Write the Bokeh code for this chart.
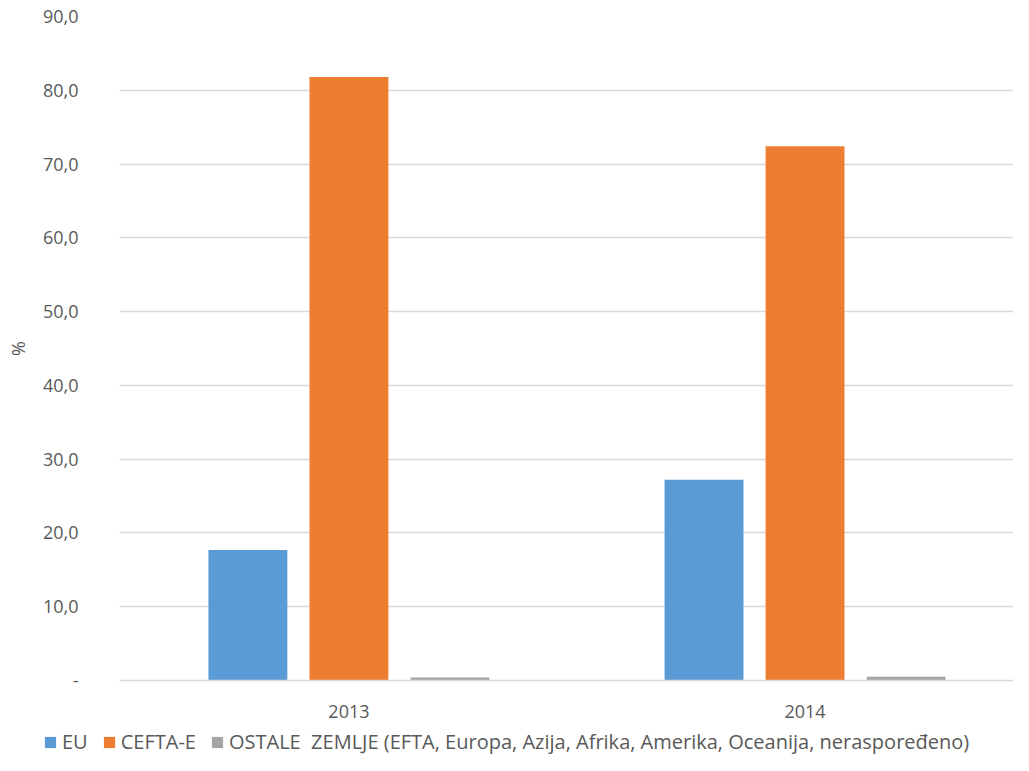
from bokeh.plotting import figure
from bokeh.models import (Range1d, Legend, LegendItem, FixedTicker,
                          CustomJSTickFormatter, ColumnDataSource)
from bokeh.embed import file_html
from bokeh.resources import INLINE

# ---- data ----
years = ["2013", "2014"]
eu = [17.7, 27.2]
cefta = [81.8, 72.4]
ostale = [0.4, 0.5]
series_names = ["EU", "CEFTA-E",
                "OSTALE  ZEMLJE (EFTA, Europa, Azija, Afrika, Amerika, Oceanija, neraspore\u0111eno)"]
colors = ["#5b9bd5", "#ed7d31", "#a5a5a5"]
y_ticks = [0, 10, 20, 30, 40, 50, 60, 70, 80, 90]

FONT = "Open Sans"
TXT = "#595959"
GRID = "#d9d9d9"
FS = "20px"
FS_Y = "18px"

# category centres at 0.5, 1.5 on a numeric axis
xc = [i + 0.5 for i in range(len(years))]
w = 0.173
off = 0.2215
src = ColumnDataSource(dict(
    x_eu=[x - off for x in xc], x_ce=xc, x_os=[x + off for x in xc],
    eu=eu, cefta=cefta, ostale=ostale))

p = figure(x_range=Range1d(-0.003, 1.957), y_range=Range1d(0, 90),
           width=1013, height=725, output_backend="svg", toolbar_location=None,
           min_border_left=119, min_border_right=0, min_border_top=16,
           min_border_bottom=45)

cols = ["eu", "cefta", "ostale"]
xcols = ["x_eu", "x_ce", "x_os"]
for xcol, col, c in zip(xcols, cols, colors):
    p.vbar(x=xcol, top=col, width=w, source=src, fill_color=c, line_color=None)

p.outline_line_color = None
p.xgrid.grid_line_color = None
p.ygrid.grid_line_color = GRID
p.ygrid.grid_line_width = 1.3

p.yaxis.ticker = FixedTicker(ticks=y_ticks)
p.yaxis.formatter = CustomJSTickFormatter(code="""
    if (tick == 0) { return "-"; }
    return tick.toFixed(1).replace('.', ',');
""")
p.yaxis.axis_line_color = None
p.yaxis.major_tick_line_color = None
p.yaxis.minor_tick_line_color = None
p.yaxis.major_label_text_font = FONT
p.yaxis.major_label_text_font_size = FS_Y
p.yaxis.major_label_text_color = TXT
p.yaxis.major_label_standoff = 35
p.yaxis.axis_label = "%"
p.yaxis.axis_label_text_font = FONT
p.yaxis.axis_label_text_font_style = "normal"
p.yaxis.axis_label_text_font_size = FS_Y
p.yaxis.axis_label_text_color = TXT
p.yaxis.axis_label_standoff = 10

p.xaxis.ticker = FixedTicker(ticks=xc)
p.xaxis.major_label_overrides = {x: y for x, y in zip(xc, years)}
p.xaxis.axis_line_color = GRID
p.xaxis.axis_line_width = 1.5
p.xaxis.major_tick_line_color = None
p.xaxis.minor_tick_line_color = None
p.xaxis.major_label_text_font = FONT
p.xaxis.major_label_text_font_size = FS_Y
p.xaxis.major_label_text_color = TXT
p.xaxis.major_label_standoff = 18

# ---- legend strip below the chart (its bars lie outside its visible y range) ----
lg = figure(x_range=Range1d(-0.003, 1.957), y_range=Range1d(1000, 1001),
            width=1013, height=30, output_backend="svg", toolbar_location=None,
            x_axis_type=None, y_axis_type=None,
            min_border_left=0, min_border_right=0, min_border_top=0, min_border_bottom=0)
lg.grid.visible = False
lg.outline_line_color = None
items = []
for name, xcol, col, c in zip(series_names, xcols, cols, colors):
    r = lg.vbar(x=xcol, top=col, width=w, source=src, fill_color=c, line_color=None)
    items.append(LegendItem(label=name, renderers=[r]))

legend = Legend(items=items, orientation="horizontal", location=(43, 0),
                glyph_width=14, glyph_height=14, label_standoff=5, spacing=14,
                label_text_font=FONT, label_text_font_size=FS,
                label_text_color=TXT, border_line_color=None,
                background_fill_alpha=0, padding=0, margin=0)
lg.add_layout(legend, "center")

open("out.html", "w").write(file_html([p, lg], INLINE))
